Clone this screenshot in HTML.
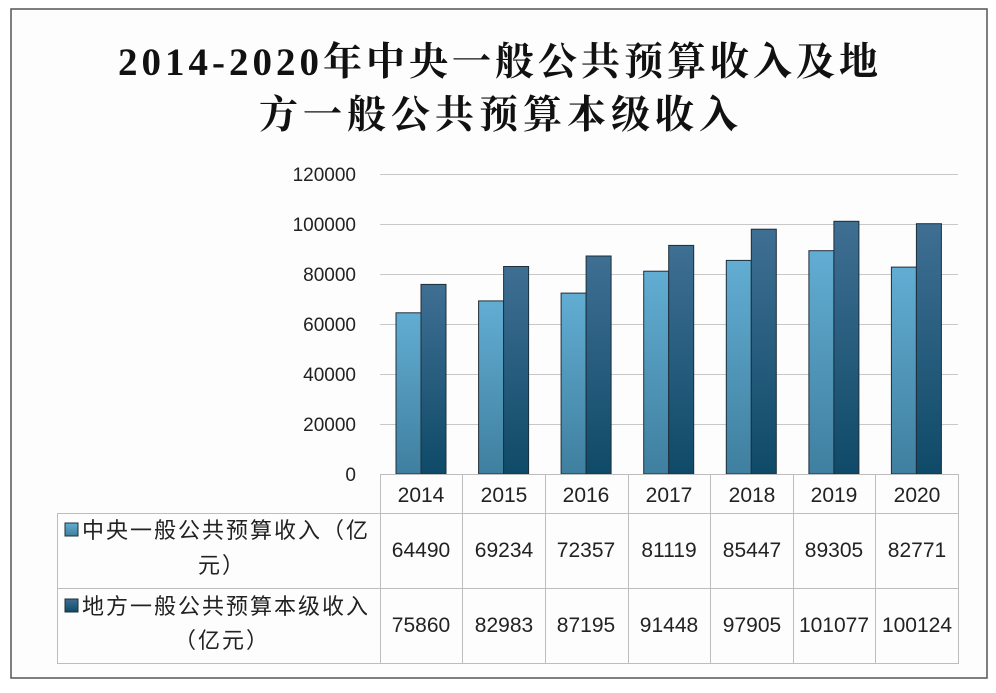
<!DOCTYPE html><html><head><meta charset="utf-8"><style>
body{margin:0;background:#fff;width:996px;height:688px;overflow:hidden}
</style></head><body>
<svg width="996" height="688" xmlns="http://www.w3.org/2000/svg" font-family="Liberation Sans, Noto Sans CJK SC, sans-serif">
<defs>
<linearGradient id="g1" x1="0" y1="0" x2="0" y2="1"><stop offset="0" stop-color="#62add3"/><stop offset="1" stop-color="#3f7f9f"/></linearGradient>
<linearGradient id="g2" x1="0" y1="0" x2="0" y2="1"><stop offset="0" stop-color="#3f6f93"/><stop offset="1" stop-color="#0f4a68"/></linearGradient>
</defs>
<rect x="0" y="0" width="996" height="688" fill="#fff"/>
<rect x="11" y="9" width="976" height="669" fill="#fdfdfd" stroke="#555" stroke-width="1.5"/>
<g font-family="Liberation Serif, Noto Serif CJK SC, serif" font-weight="bold" font-size="39" fill="#111" text-anchor="middle" letter-spacing="4">
<text x="500" y="75">2014-2020年中央一般公共预算收入及地</text>
<text x="501" y="128" letter-spacing="5">方一般公共预算本级收入</text>
</g>
<g stroke="#c8c8c8" stroke-width="1">
<line x1="380" y1="174.5" x2="958" y2="174.5"/><line x1="380" y1="224.5" x2="958" y2="224.5"/>
<line x1="380" y1="274.5" x2="958" y2="274.5"/><line x1="380" y1="324.5" x2="958" y2="324.5"/>
<line x1="380" y1="374.5" x2="958" y2="374.5"/><line x1="380" y1="424.5" x2="958" y2="424.5"/>
</g>
<g font-size="19" fill="#222" text-anchor="end">
<text x="356" y="181">120000</text><text x="356" y="231">100000</text><text x="356" y="281">80000</text>
<text x="356" y="331">60000</text><text x="356" y="381">40000</text><text x="356" y="431">20000</text><text x="356" y="481">0</text>
</g>
<g stroke="#1e2e3a" stroke-width="1">
<rect x="396" y="312.8" width="25" height="161.2" fill="url(#g1)"/><rect x="421" y="284.4" width="25" height="189.6" fill="url(#g2)"/>
<rect x="478.6" y="300.9" width="25" height="173.1" fill="url(#g1)"/><rect x="503.6" y="266.5" width="25" height="207.5" fill="url(#g2)"/>
<rect x="561.1" y="293.1" width="25" height="180.9" fill="url(#g1)"/><rect x="586.1" y="256" width="25" height="218" fill="url(#g2)"/>
<rect x="643.7" y="271.2" width="25" height="202.8" fill="url(#g1)"/><rect x="668.7" y="245.4" width="25" height="228.6" fill="url(#g2)"/>
<rect x="726.3" y="260.4" width="25" height="213.6" fill="url(#g1)"/><rect x="751.3" y="229.2" width="25" height="244.8" fill="url(#g2)"/>
<rect x="808.9" y="250.7" width="25" height="223.3" fill="url(#g1)"/><rect x="833.9" y="221.3" width="25" height="252.7" fill="url(#g2)"/>
<rect x="891.4" y="267.1" width="25" height="206.9" fill="url(#g1)"/><rect x="916.4" y="223.7" width="25" height="250.3" fill="url(#g2)"/>
</g>
<g stroke="#bdbdbd" stroke-width="1" fill="none">
<line x1="380" y1="474.5" x2="958" y2="474.5"/>
<line x1="57" y1="513.5" x2="958" y2="513.5"/>
<line x1="57" y1="588.5" x2="958" y2="588.5"/>
<line x1="57" y1="663.5" x2="958" y2="663.5"/>
<line x1="57.5" y1="513" x2="57.5" y2="664"/>
<line x1="380.5" y1="474" x2="380.5" y2="664"/><line x1="462.5" y1="474" x2="462.5" y2="664"/>
<line x1="545.5" y1="474" x2="545.5" y2="664"/><line x1="628.5" y1="474" x2="628.5" y2="664"/>
<line x1="710.5" y1="474" x2="710.5" y2="664"/><line x1="793.5" y1="474" x2="793.5" y2="664"/>
<line x1="875.5" y1="474" x2="875.5" y2="664"/><line x1="958.5" y1="474" x2="958.5" y2="664"/>
</g>
<g font-size="21" fill="#222" text-anchor="middle">
<text x="421" y="502">2014</text><text x="504" y="502">2015</text><text x="586" y="502">2016</text><text x="669" y="502">2017</text><text x="752" y="502">2018</text><text x="834" y="502">2019</text><text x="917" y="502">2020</text>
<text x="421" y="557">64490</text><text x="504" y="557">69234</text><text x="586" y="557">72357</text><text x="669" y="557">81119</text><text x="752" y="557">85447</text><text x="834" y="557">89305</text><text x="917" y="557">82771</text>
<text x="421" y="632">75860</text><text x="504" y="632">82983</text><text x="586" y="632">87195</text><text x="669" y="632">91448</text><text x="752" y="632">97905</text><text x="834" y="632">101077</text><text x="917" y="632">100124</text>
</g>
<rect x="65" y="523" width="13" height="13" fill="url(#g1)" stroke="#1e2e3a"/>
<rect x="65" y="599" width="13" height="13" fill="url(#g2)" stroke="#1e2e3a"/>
<g font-size="22" fill="#222" letter-spacing="2">
<text x="82" y="538">中央一般公共预算收入（亿</text>
<text x="222" y="573" text-anchor="middle">元）</text>
<text x="82" y="614">地方一般公共预算本级收入</text>
<text x="222" y="648" text-anchor="middle">（亿元）</text>
</g>
</svg>
</body></html>
